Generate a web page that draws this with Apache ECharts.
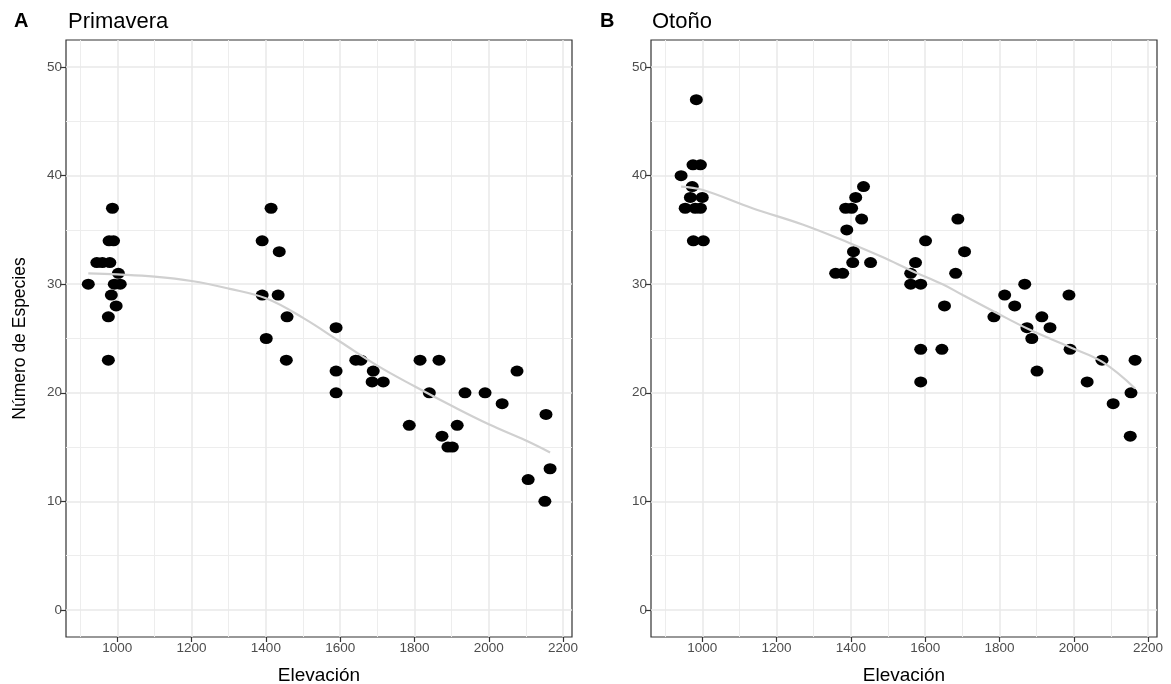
<!DOCTYPE html>
<html>
<head>
<meta charset="utf-8">
<title>Primavera / Otoño</title>
<script src="https://cdn.jsdelivr.net/npm/echarts@6/dist/echarts.min.js"></script>
<style>
	html, body { margin: 0; padding: 0; background: #fff; }
	#chart { width: 1171px; height: 684px; }
</style>
</head>
<body>
<div id="chart"></div>
<script>
// datos
var springElev = [922, 945, 960, 980, 987, 978, 990, 1003, 992, 1008, 984, 997, 976, 976,
	1414, 1390, 1436, 1390, 1433, 1457, 1401, 1455, 1589, 1642, 1656, 1589, 1589,
	1689, 1686, 1716, 1815, 1866, 1840, 1936, 1990, 2076, 2036, 1786, 1915, 1874,
	1890, 1902, 2154, 2165, 2106, 2151];
var springSpp = [30, 32, 32, 32, 37, 34, 34, 31, 30, 30, 29, 28, 27, 23,
	37, 34, 33, 29, 29, 27, 25, 23, 26, 23, 23, 22, 20,
	22, 21, 21, 23, 23, 20, 20, 20, 22, 19, 17, 17, 16,
	15, 15, 18, 13, 12, 10];

var autumnElev = [984, 975, 995, 943, 973, 968, 1000, 954, 981, 995, 976, 1003,
	1434, 1413, 1386, 1402, 1429, 1389, 1407, 1405, 1453, 1359, 1378,
	1688, 1601, 1574, 1561, 1561, 1588, 1682, 1652, 1588, 1645, 1588, 1706,
	1868, 1814, 1987, 1841, 1785, 1914, 1936, 1874, 1887, 1990, 2076, 2165,
	2036, 1901, 2154, 2106, 2152];
var autumnSpp = [47, 41, 41, 40, 39, 38, 38, 37, 37, 37, 34, 34,
	39, 38, 37, 37, 36, 35, 33, 32, 32, 31, 31,
	36, 34, 32, 31, 30, 30, 31, 28, 24, 24, 21, 33,
	30, 29, 29, 28, 27, 27, 26, 26, 25, 24, 23, 23,
	21, 22, 20, 19, 16];

// curva loess (leída)
var springFitElev = [922, 1000, 1100, 1200, 1300, 1400, 1500, 1600, 1700, 1800, 1900, 2000, 2100, 2165];
var springFitSpp = [31.0, 30.9, 30.7, 30.3, 29.6, 28.7, 26.9, 24.7, 22.5, 20.6, 18.8, 17.1, 15.6, 14.5];
var autumnFitElev = [943, 1000, 1135, 1270, 1396, 1485, 1566, 1647, 1701, 1790, 1882, 1990, 2079, 2165];
var autumnFitSpp = [39.0, 38.7, 37.0, 35.5, 33.8, 32.5, 31.2, 30.0, 29.0, 27.4, 25.8, 24.2, 22.8, 20.4];

// ticks y rejilla
var xTicks = [1000, 1200, 1400, 1600, 1800, 2000, 2200];
var xMinor = [900, 1100, 1300, 1500, 1700, 1900, 2100];
var yTicks = [0, 10, 20, 30, 40, 50];
var yMinor = [5, 15, 25, 35, 45];

(function() {
	'use strict';
	var FONT = 'Liberation Sans, Arial, sans-serif';
	var chart = echarts.init(document.getElementById('chart'), null, { renderer: 'canvas' });

	function zip(xs, ys) {
		return xs.map(function(x, i) { return [x, ys[i]]; });
	}

	// rejilla tipo theme_bw: líneas mayores y menores
	function gridLines() {
		var d = [];
		xMinor.forEach(function(v) { d.push({ xAxis: v, lineStyle: { color: '#ededed', width: 1 } }); });
		yMinor.forEach(function(v) { d.push({ yAxis: v, lineStyle: { color: '#ededed', width: 1 } }); });
		xTicks.forEach(function(v) { d.push({ xAxis: v, lineStyle: { color: '#e8e8e8', width: 1.5 } }); });
		yTicks.forEach(function(v) { d.push({ yAxis: v, lineStyle: { color: '#e8e8e8', width: 1.5 } }); });
		return d;
	}

	function xAxis(idx) {
		return {
			type: 'value', gridIndex: idx, min: 862, max: 2224, position: 'bottom',
			name: 'Elevación', nameLocation: 'middle', nameGap: 29,
			nameTextStyle: { color: '#000', fontSize: 19, fontFamily: FONT },
			axisLine: { show: false, onZero: false },
			axisTick: { show: true, length: 5, customValues: xTicks, lineStyle: { color: '#333', width: 1.2 } },
			axisLabel: {
				color: '#4d4d4d', fontSize: 13.5, margin: 4, fontFamily: FONT, customValues: xTicks,
				formatter: function(v) { return String(v); }
			},
			splitLine: { show: false }
		};
	}

	function yAxis(idx) {
		return {
			type: 'value', gridIndex: idx, min: -2.5, max: 52.5, position: 'left',
			name: idx === 0 ? 'Número de Especies' : '', nameLocation: 'middle', nameGap: 37,
			nameTextStyle: { color: '#000', fontSize: 17.5, fontFamily: FONT },
			axisLine: { show: false, onZero: false },
			axisTick: { show: true, length: 6, customValues: yTicks, lineStyle: { color: '#333', width: 1.2 } },
			axisLabel: { color: '#4d4d4d', fontSize: 13.5, margin: 4, fontFamily: FONT, customValues: yTicks },
			splitLine: { show: false }
		};
	}

	function panelSeries(idx, elev, spp, fitElev, fitSpp) {
		return [{
			type: 'line', xAxisIndex: idx, yAxisIndex: idx, data: [], silent: true, z: 1,
			markLine: {
				z: 1, silent: true, symbol: 'none', animation: false,
				label: { show: false },
				lineStyle: { type: 'solid' },
				data: gridLines()
			}
		}, {
			type: 'scatter', xAxisIndex: idx, yAxisIndex: idx, z: 3,
			symbol: 'circle', symbolSize: [13, 11],
			itemStyle: { color: '#000', opacity: 1 },
			data: zip(elev, spp)
		}, {
			type: 'line', xAxisIndex: idx, yAxisIndex: idx, z: 4,
			smooth: 0.4, showSymbol: false, symbol: 'none',
			lineStyle: { color: '#d0d0d0', width: 2.2 },
			data: zip(fitElev, fitSpp)
		}];
	}

	var option = {
		animation: false,
		backgroundColor: '#fff',
		title: [
			{ text: 'A', left: 9, top: 6, textStyle: { fontSize: 20, fontWeight: 'bold', color: '#000', fontFamily: FONT } },
			{ text: 'Primavera', left: 63, top: 6, textStyle: { fontSize: 22, fontWeight: 'normal', color: '#000', fontFamily: FONT } },
			{ text: 'B', left: 595, top: 6, textStyle: { fontSize: 20, fontWeight: 'bold', color: '#000', fontFamily: FONT } },
			{ text: 'Otoño', left: 647, top: 6, textStyle: { fontSize: 22, fontWeight: 'normal', color: '#000', fontFamily: FONT } }
		],
		grid: [
			{ left: 66, top: 40, width: 506, height: 597, outerBoundsMode: 'none',
				show: true, borderColor: '#333', borderWidth: 1.2, backgroundColor: 'transparent' },
			{ left: 651, top: 40, width: 506, height: 597, outerBoundsMode: 'none',
				show: true, borderColor: '#333', borderWidth: 1.2, backgroundColor: 'transparent' }
		],
		xAxis: [xAxis(0), xAxis(1)],
		yAxis: [yAxis(0), yAxis(1)],
		series: panelSeries(0, springElev, springSpp, springFitElev, springFitSpp)
			.concat(panelSeries(1, autumnElev, autumnSpp, autumnFitElev, autumnFitSpp))
	};

	chart.setOption(option);
}());
</script>
</body>
</html>
